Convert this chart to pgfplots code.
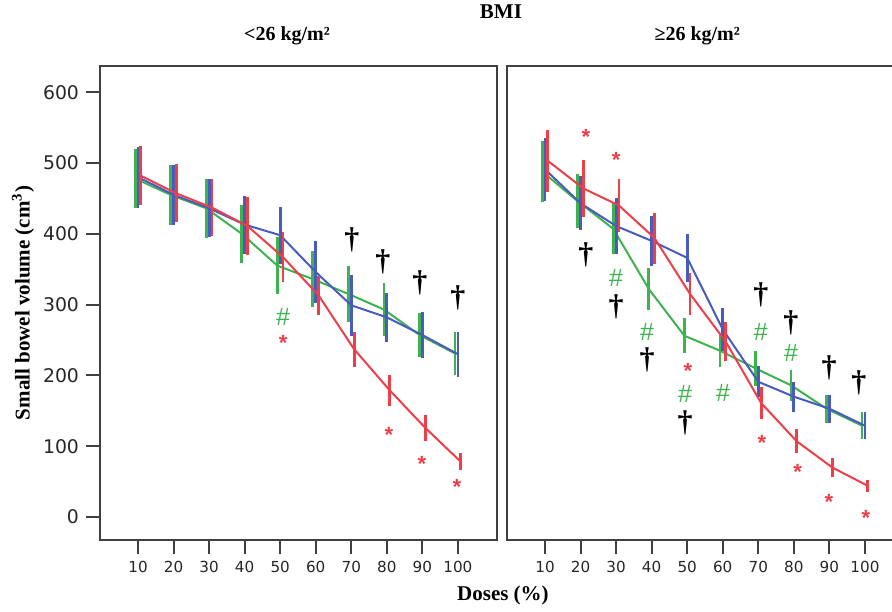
\documentclass[border=0pt]{standalone}
\usepackage{fontspec}
\setmainfont{Liberation Serif}
\newfontfamily\tickfont{DejaVu Sans}
\newfontfamily\symfont{Liberation Sans}
\usepackage{pgfplots}
\pgfplotsset{compat=1.18}

\definecolor{cgreen}{RGB}{62,178,78}
\definecolor{cblue}{RGB}{72,92,190}
\definecolor{cred}{RGB}{238,62,72}

\pgfplotsset{
  panel/.style={scale only axis,width=198.5pt,height=237pt,
    xmin=-0.7,xmax=111,ymin=-32.5,ymax=637,clip=false,
    axis line style={black!75,line width=1pt},
    xtick={10,20,...,100},xtick pos=bottom,ytick pos=left,
    tick align=outside,major tick length=7pt,
    tick style={black!75,line width=1pt},
    xticklabel style={font=\tickfont\fontsize{7.6}{9}\selectfont,text=black!85},
    yticklabel style={font=\tickfont\fontsize{9.4}{10}\selectfont,text=black!85},
    /pgf/number format/assume math mode=true},
  series/.style={color=#1,line width=1pt,mark=none,
    error bars/.cd,y dir=both,y explicit,error mark=none,
    error bar style={line width=1.4pt,color=#1}},
  star/.style={draw=none,mark=none,forget plot,nodes near coords,point meta=explicit symbolic,
    every node near coord/.style={anchor=center,inner sep=0pt,text=cred,font=\symfont\bfseries\fontsize{11}{11}\selectfont}},
  hash/.style={draw=none,mark=none,forget plot,nodes near coords,point meta=explicit symbolic,
    every node near coord/.style={anchor=center,inner sep=0pt,text=cgreen,font=\symfont\fontsize{12.5}{12.5}\selectfont}},
  dag/.style={draw=none,mark=none,forget plot,nodes near coords,point meta=explicit symbolic,
    every node near coord/.style={anchor=center,inner sep=0pt,text=black,font=\bfseries\fontsize{15}{15}\selectfont}},
}

\begin{document}
\begin{tikzpicture}
\useasboundingbox (0,0) rectangle (446pt,305.5pt);

% BMI < 26
\begin{axis}[panel,at={(50pt,35.5pt)},anchor=south west,
  ytick={0,100,...,600},
  ylabel={Small bowel volume (cm\textsuperscript{3})},
  ylabel style={at={(axis description cs:-0.194,0.5)},anchor=center,font=\bfseries\fontsize{10.5}{12}\selectfont},
  xlabel={Doses (\%)},
  xlabel style={at={(axis description cs:1.015,-0.116)},anchor=center,font=\bfseries\fontsize{10.5}{12}\selectfont}]
\addplot[series=cgreen] coordinates {(9.2,478) +- (0,42) (19.2,455) +- (0,42) (29.2,436) +- (0,42) (39.2,400) +- (0,41) (49.2,355) +- (0,40) (59.2,336) +- (0,40) (69.2,315) +- (0,39) (79.2,293) +- (0,38) (89.2,257) +- (0,31) (99.2,231) +- (0,31)};
\addplot[series=cblue] coordinates {(10,480) +- (0,43) (20,455) +- (0,42) (30,436) +- (0,41) (40,413) +- (0,41) (50,398) +- (0,40) (60,346) +- (0,44) (70,299) +- (0,43) (80,282) +- (0,35) (90,257) +- (0,33) (100,230) +- (0,32)};
\addplot[series=cred] coordinates {(10.8,482) +- (0,42) (20.8,457) +- (0,41) (30.8,437) +- (0,40) (40.8,411) +- (0,41) (50.8,367) +- (0,35) (60.8,313) +- (0,27) (70.8,237) +- (0,25) (80.8,179) +- (0,22) (90.8,126) +- (0,18) (100.8,78) +- (0,12)};
\addplot[star] coordinates {(50.8,246) [*] (80.6,116) [*] (89.9,75) [*] (99.7,42) [*]};
\addplot[hash] coordinates {(50.8,283) [\#]};
\addplot[dag] coordinates {(70.2,391) [†] (78.9,360) [†] (89.3,331) [†] (100,309) [†]};
\node[font=\bfseries\fontsize{10.5}{12}\selectfont] at (axis description cs:1.010,1.114) {BMI};
\node[font=\bfseries\fontsize{10}{12}\selectfont] at (axis description cs:0.471,1.063) {<26 kg/m²};
\end{axis}

% BMI >= 26
\begin{axis}[panel,at={(253.5pt,35.5pt)},anchor=south west,
  ytick=\empty]
\addplot[series=cgreen] coordinates {(9.2,488) +- (0,43) (19.2,446) +- (0,38) (29.2,407) +- (0,36) (39.2,322) +- (0,30) (49.2,256) +- (0,25) (59.2,235) +- (0,23) (69.2,210) +- (0,25) (79.2,186) +- (0,22) (89.2,153) +- (0,20) (99.2,129) +- (0,19)};
\addplot[series=cblue] coordinates {(10,491) +- (0,44) (20,443) +- (0,38) (30,411) +- (0,39) (40,390) +- (0,35) (50,366) +- (0,34) (60,265) +- (0,30) (70,191) +- (0,22) (80,170) +- (0,21) (90,153) +- (0,20) (100,129) +- (0,19)};
\addplot[series=cred] coordinates {(10.8,503) +- (0,44) (20.8,464) +- (0,40) (30.8,440) +- (0,38) (40.8,394) +- (0,36) (50.8,315) +- (0,30) (60.8,248) +- (0,27) (70.8,161) +- (0,22) (80.8,107) +- (0,17) (90.8,70) +- (0,13) (100.8,44) +- (0,8)};
\addplot[star] coordinates {(21.5,537) [*] (30.0,504) [*] (50.2,207) [*] (71.0,105) [*] (81.1,64) [*] (89.9,21) [*] (100.3,-1) [*]};
\addplot[hash] coordinates {(30.0,338) [\#] (38.7,261) [\#] (49.4,174) [\#] (60.1,175) [\#] (70.7,261) [\#] (79.2,232) [\#]};
\addplot[dag] coordinates {(21.5,370) [†] (30.0,297) [†] (38.7,222) [†] (49.4,133) [†] (70.7,314) [†] (79.2,274) [†] (89.9,211) [†] (98.3,189) [†]};
\node[font=\bfseries\fontsize{10}{12}\selectfont] at (axis description cs:0.479,1.063) {≥26 kg/m²};
\end{axis}
\end{tikzpicture}
\end{document}
